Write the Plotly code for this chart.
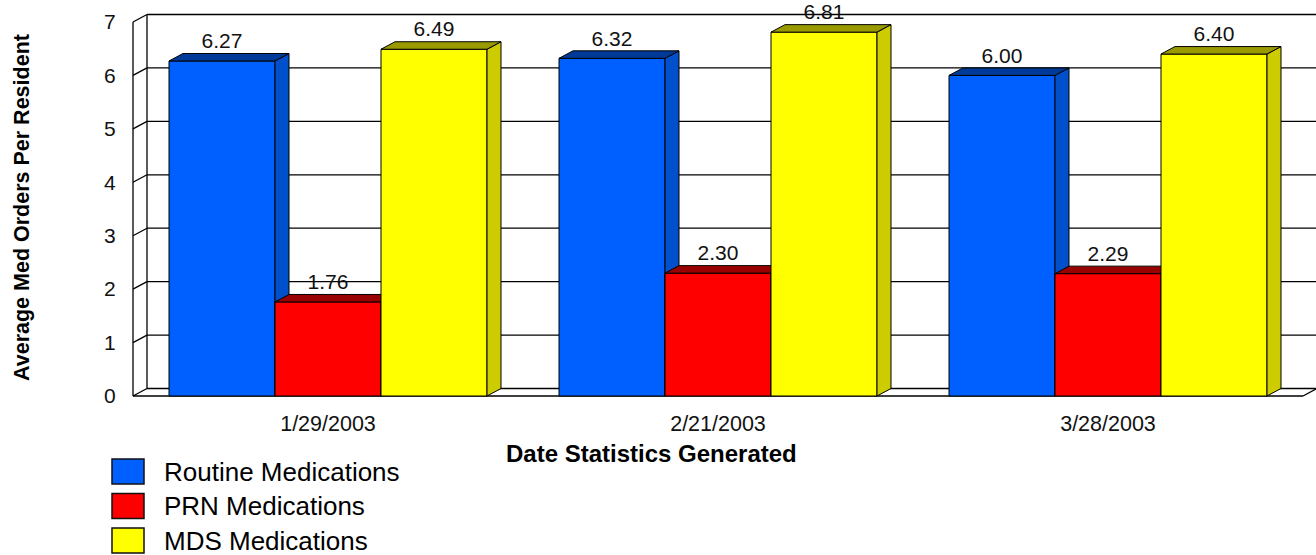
import plotly.graph_objects as go

# ---------------- data ----------------
categories = ["1/29/2003", "2/21/2003", "3/28/2003"]
routine = [6.27, 6.32, 6.00]
prn = [1.76, 2.30, 2.29]
mds = [6.49, 6.81, 6.40]
series_names = ["Routine Medications", "PRN Medications", "MDS Medications"]
y_ticks = [0, 1, 2, 3, 4, 5, 6, 7]

# ---------------- layout constants ----------------
W, H = 1316, 555
PX_X = 390.0      # pixels per category
PX_Y = 53.43      # pixels per value unit
L, T = 129, 12
PLOT_W = W - L
PLOT_BOTTOM = 400
PLOT_H = PLOT_BOTTOM - T
XMIN = -0.5 - 4 / PX_X
XMAX = XMIN + PLOT_W / PX_X
YMIN = -4 / PX_Y
YMAX = YMIN + PLOT_H / PX_Y
DX = 14 / PX_X     # 3D depth
DY = 7.5 / PX_Y
BAR_W = 106 / PX_X
OFFSETS = [-1.5 * BAR_W, -0.5 * BAR_W, 0.5 * BAR_W]
FRONT = ["#0060FF", "#FF0000", "#FFFF00"]
SIDE = ["#0050CC", "#CC0000", "#CCCC00"]
TOP = ["#003A99", "#990000", "#999900"]
FONT = "Arial, Liberation Sans, sans-serif"


def px2paper_x(px):
    return (px - L) / PLOT_W


def px2paper_y(py):
    return (PLOT_BOTTOM - py) / PLOT_H


fig = go.Figure()
xs = list(range(len(categories)))
all_series = [routine, prn, mds]

for k, vals in enumerate(all_series):
    suffix = "" if k == 0 else str(k + 1)
    xa, ya = "x" + suffix, "y" + suffix
    fig.add_trace(go.Bar(
        x=xs, y=vals, width=BAR_W, offset=OFFSETS[k], name=series_names[k],
        marker=dict(color=FRONT[k], line=dict(color="black", width=1)),
        xaxis=xa, yaxis=ya, showlegend=False, hoverinfo="skip"))
    sx, sy, tx, ty = [], [], [], []
    for i, v in zip(xs, vals):
        x0 = i + OFFSETS[k]
        x1 = x0 + BAR_W
        sx += [x1, x1 + DX, x1 + DX, x1, x1, None]
        sy += [0, DY, v + DY, v, 0, None]
        tx += [x0, x0 + DX, x1 + DX, x1, x0, None]
        ty += [v, v + DY, v + DY, v, v, None]
    fig.add_trace(go.Scatter(x=sx, y=sy, mode="lines", fill="toself",
                             fillcolor=SIDE[k], line=dict(color="black", width=1),
                             xaxis=xa, yaxis=ya, showlegend=False, hoverinfo="skip"))
    fig.add_trace(go.Scatter(x=tx, y=ty, mode="lines", fill="toself",
                             fillcolor=TOP[k], line=dict(color="black", width=1),
                             xaxis=xa, yaxis=ya, showlegend=False, hoverinfo="skip"))

# value labels on top-most layer
for k, vals in enumerate(all_series):
    fig.add_trace(go.Scatter(
        x=[i + OFFSETS[k] + BAR_W / 2 for i in xs], y=[v + DY for v in vals],
        mode="text", text=[f"{v:.2f}" for v in vals], textposition="top center",
        textfont=dict(family=FONT, size=21, color="#111"), cliponaxis=False,
        xaxis="x3", yaxis="y3", showlegend=False, hoverinfo="skip"))

# ---------------- walls, grid, axes (shapes) ----------------
x_front = -0.5
x_right = len(categories) - 0.5
shapes = []
line = dict(color="black", width=1.3)
for v in y_ticks:
    shapes.append(dict(type="line", xref="x", yref="y", x0=x_front + DX, x1=XMAX + 1,
                       y0=v + DY, y1=v + DY, line=line, layer="below"))
    shapes.append(dict(type="line", xref="x", yref="y", x0=x_front, x1=x_front + DX,
                       y0=v, y1=v + DY, line=line, layer="below"))
shapes.append(dict(type="line", xref="x", yref="y", x0=x_front + DX, x1=x_front + DX,
                   y0=DY, y1=y_ticks[-1] + DY, line=line, layer="below"))
shapes.append(dict(type="line", xref="x", yref="y", x0=x_front, x1=x_front,
                   y0=0, y1=y_ticks[-1], line=line, layer="below"))
shapes.append(dict(type="line", xref="x", yref="y", x0=x_front, x1=x_right,
                   y0=0, y1=0, line=line, layer="below"))
shapes.append(dict(type="line", xref="x", yref="y", x0=x_right, x1=x_right + DX,
                   y0=0, y1=DY, line=line, layer="below"))

# legend (manual, large swatches)
annotations = []
legend_rows = [471.5, 506, 540.5]
for k, name in enumerate(series_names):
    cy = legend_rows[k]
    shapes.append(dict(type="rect", xref="paper", yref="paper",
                       x0=px2paper_x(112), x1=px2paper_x(144),
                       y0=px2paper_y(cy - 12.5), y1=px2paper_y(cy + 12.5),
                       fillcolor=FRONT[k], line=dict(color="#111", width=1.5)))
    annotations.append(dict(xref="paper", yref="paper", x=px2paper_x(162), y=px2paper_y(cy),
                            xanchor="left", yanchor="middle", text=name, showarrow=False,
                            font=dict(family=FONT, size=26, color="black")))

annotations.append(dict(xref="paper", yref="paper", x=px2paper_x(651), y=px2paper_y(453),
                        xanchor="center", yanchor="middle", showarrow=False,
                        text="<b>Date Statistics Generated</b>",
                        font=dict(family=FONT, size=24, color="black")))
annotations.append(dict(xref="paper", yref="paper", x=px2paper_x(22), y=px2paper_y(208),
                        xanchor="center", yanchor="middle", showarrow=False, textangle=-90,
                        text="<b>Average Med Orders Per Resident</b>",
                        font=dict(family=FONT, size=21.5, color="black")))

axis_common = dict(range=[XMIN, XMAX], showgrid=False, zeroline=False, showline=False)
yaxis_common = dict(range=[YMIN, YMAX], showgrid=False, zeroline=False, showline=False)

fig.update_layout(
    width=W, height=H,
    margin=dict(l=L, r=0, t=T, b=H - PLOT_BOTTOM, autoexpand=False),
    paper_bgcolor="white", plot_bgcolor="white",
    showlegend=False,
    xaxis=dict(**axis_common, tickmode="array", tickvals=xs, ticktext=categories,
               ticks="outside", ticklen=4, tickcolor="rgba(0,0,0,0)",
               tickfont=dict(family=FONT, size=21.5, color="#111")),
    yaxis=dict(**yaxis_common, tickmode="array", tickvals=y_ticks,
               ticktext=[str(v) for v in y_ticks],
               ticks="outside", ticklen=8, tickcolor="rgba(0,0,0,0)",
               tickfont=dict(family=FONT, size=21, color="#111")),
    xaxis2=dict(**axis_common, overlaying="x", matches="x", visible=False),
    yaxis2=dict(**yaxis_common, overlaying="y", matches="y", visible=False),
    xaxis3=dict(**axis_common, overlaying="x", matches="x", visible=False),
    yaxis3=dict(**yaxis_common, overlaying="y", matches="y", visible=False),
    shapes=shapes, annotations=annotations,
)

fig.write_html("out.html")
